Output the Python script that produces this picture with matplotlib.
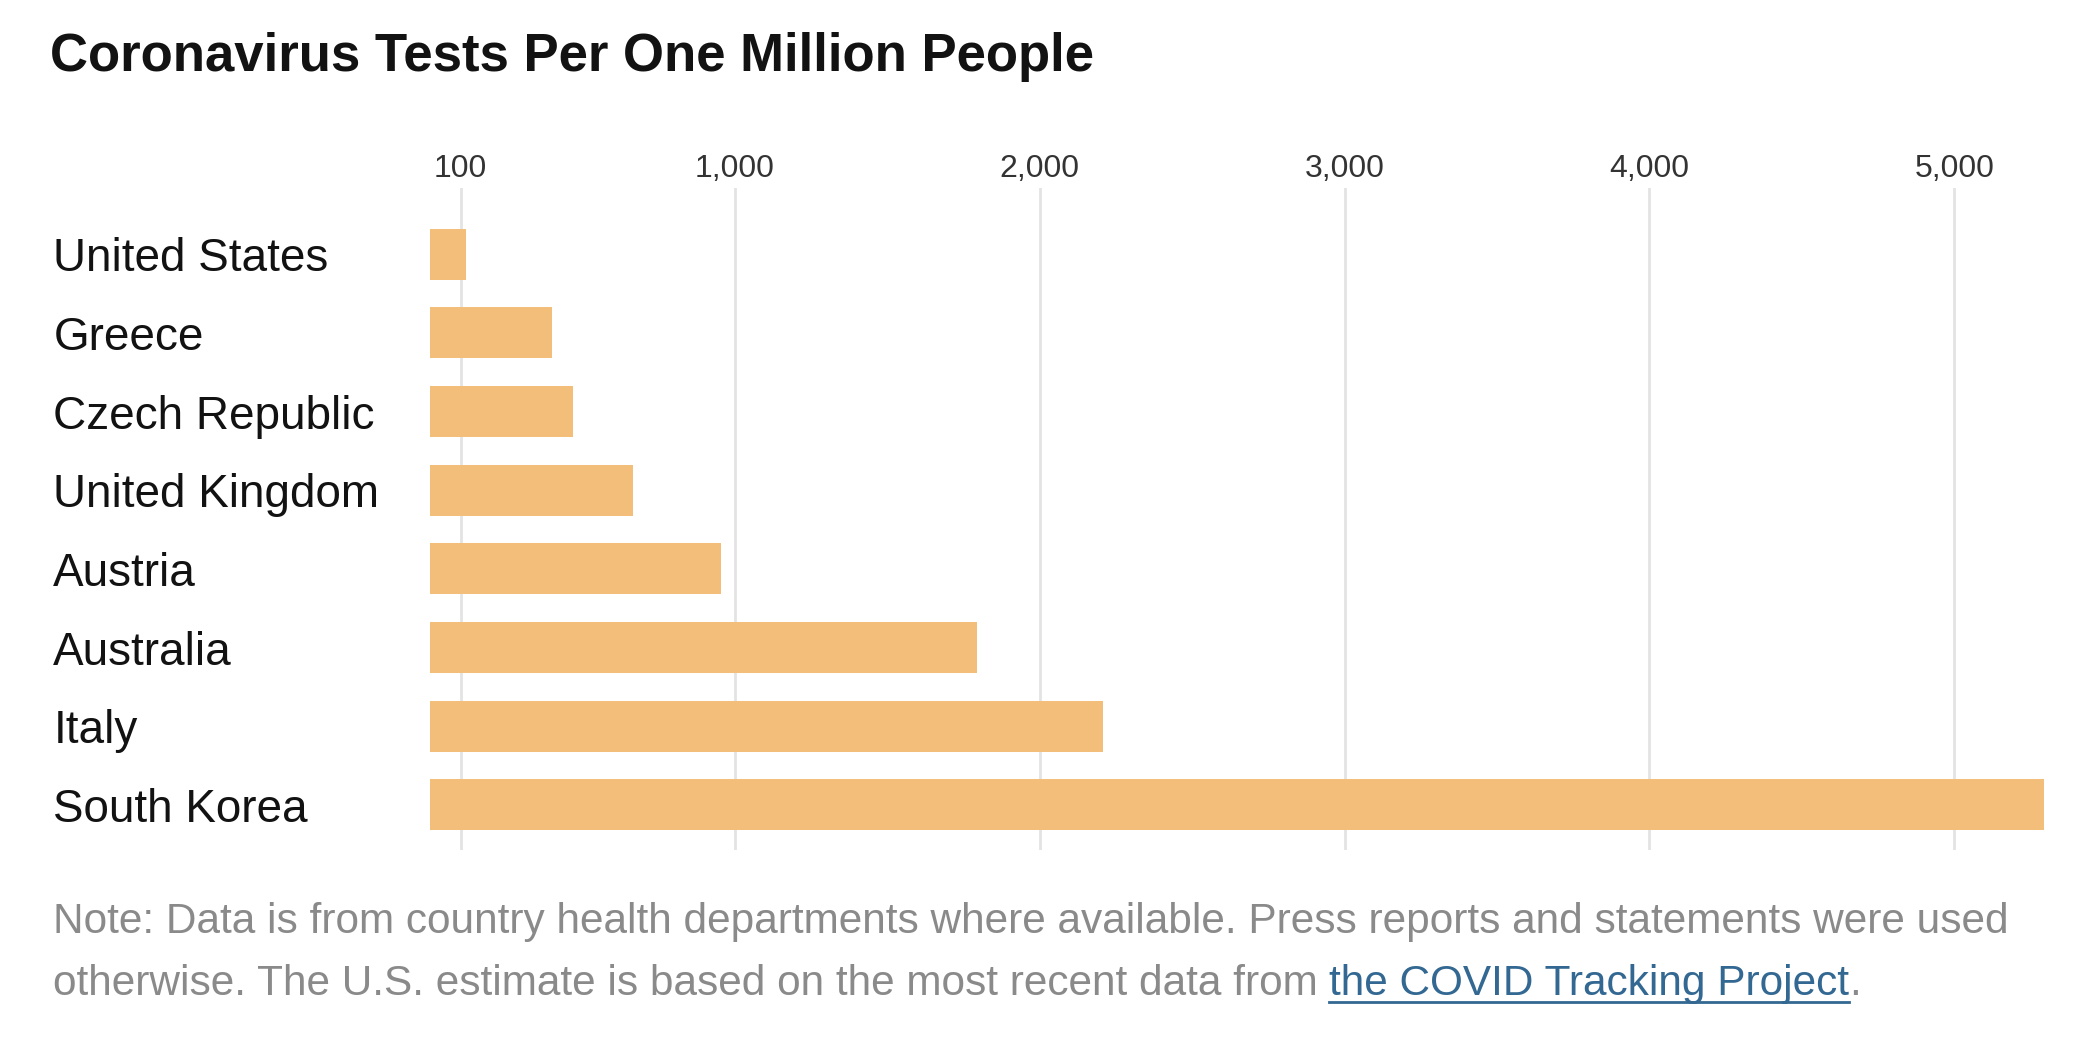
import matplotlib
matplotlib.use("Agg")
import matplotlib.pyplot as plt
from matplotlib.lines import Line2D

# ----------------------------------------
# Data
# ----------------------------------------
countries = ["United States", "Greece", "Czech Republic", "United Kingdom",
             "Austria", "Australia", "Italy", "South Korea"]
tests_per_million = [118, 400, 468, 664, 953, 1795, 2206, 5295]
tick_values = [100, 1000, 2000, 3000, 4000, 5000]
tick_labels = ["100", "1,000", "2,000", "3,000", "4,000", "5,000"]

title = "Coronavirus Tests Per One Million People"
note_line1 = ("Note: Data is from country health departments where available. "
              "Press reports and statements were used")
note_line2 = "otherwise. The U.S. estimate is based on the most recent data from"
link_text = "the COVID Tracking Project"

BAR_COLOR = "#f3bd7a"
GRID_COLOR = "#e3e3e3"
NOTE_COLOR = "#8a8a8a"
LINK_COLOR = "#326891"

W, H = 2074, 1056
plt.rcParams["font.family"] = ["Liberation Sans", "DejaVu Sans"]

fig = plt.figure(figsize=(W / 100, H / 100), dpi=100)
fig.patch.set_facecolor("white")
renderer = fig.canvas.get_renderer()


def text_width(text, size, **kw):
    t = fig.text(0, 0, text, fontsize=size, **kw)
    w = t.get_window_extent(renderer).width
    t.remove()
    return w


def fit_size(text, target_px, size, **kw):
    # pick a font size so the text spans roughly target_px pixels
    return size * target_px / text_width(text, size, **kw)


# axes placed in pixel terms: x=0 at 430px, gridlines from y=188 to y=850
ax = fig.add_axes([430.2 / W, 1 - 850 / H, 1 - 430.2 / W, (850 - 188) / H])
ypos = list(range(len(countries)))
ax.barh(ypos, tests_per_million, height=0.65, color=BAR_COLOR, zorder=2)
ax.set_xlim(0, (W - 430.2) / 0.3048)
ax.set_ylim(7.573, -0.842)

for v in tick_values:
    ax.axvline(v, color=GRID_COLOR, linewidth=2.0, zorder=1)

ax.xaxis.tick_top()
ax.set_xticks(tick_values)
ax.set_xticklabels(tick_labels, fontsize=23, color="#333333")
ax.tick_params(axis="x", length=0, pad=3)

ax.set_yticks(ypos)
ax.set_yticklabels(countries, fontsize=33, color="#121212")
ax.tick_params(axis="y", length=0, pad=271.4)
for lab in ax.get_yticklabels():
    lab.set_horizontalalignment("left")

for s in ax.spines.values():
    s.set_visible(False)

# title
title_size = fit_size(title, 1045, 40, fontweight="bold")
fig.text(50 / W, 1 - 71 / H, title, fontsize=title_size, fontweight="bold",
         color="#121212", va="baseline", ha="left")

# note with link
note_size = fit_size(note_line1, 1959, 28)
fig.text(52.7 / W, 1 - 933 / H, note_line1, fontsize=note_size, color=NOTE_COLOR,
         va="baseline", ha="left")
t2 = fig.text(52.7 / W, 1 - 995 / H, note_line2, fontsize=note_size, color=NOTE_COLOR,
              va="baseline", ha="left")
bb2 = t2.get_window_extent(renderer)
space_w = text_width("a a", note_size) - text_width("aa", note_size)

link_x = bb2.x1 + space_w
tl = fig.text(link_x / W, 1 - 995 / H, link_text, fontsize=note_size, color=LINK_COLOR,
              va="baseline", ha="left")
bbl = tl.get_window_extent(renderer)
fig.text(bbl.x1 / W, 1 - 995 / H, ".", fontsize=note_size, color=NOTE_COLOR,
         va="baseline", ha="left")
uy = (H - 995 - 7) / H
fig.add_artist(Line2D([bbl.x0 / W, bbl.x1 / W], [uy, uy], transform=fig.transFigure,
                      color=LINK_COLOR, linewidth=2.0))

fig.savefig("out.png", dpi=100)
